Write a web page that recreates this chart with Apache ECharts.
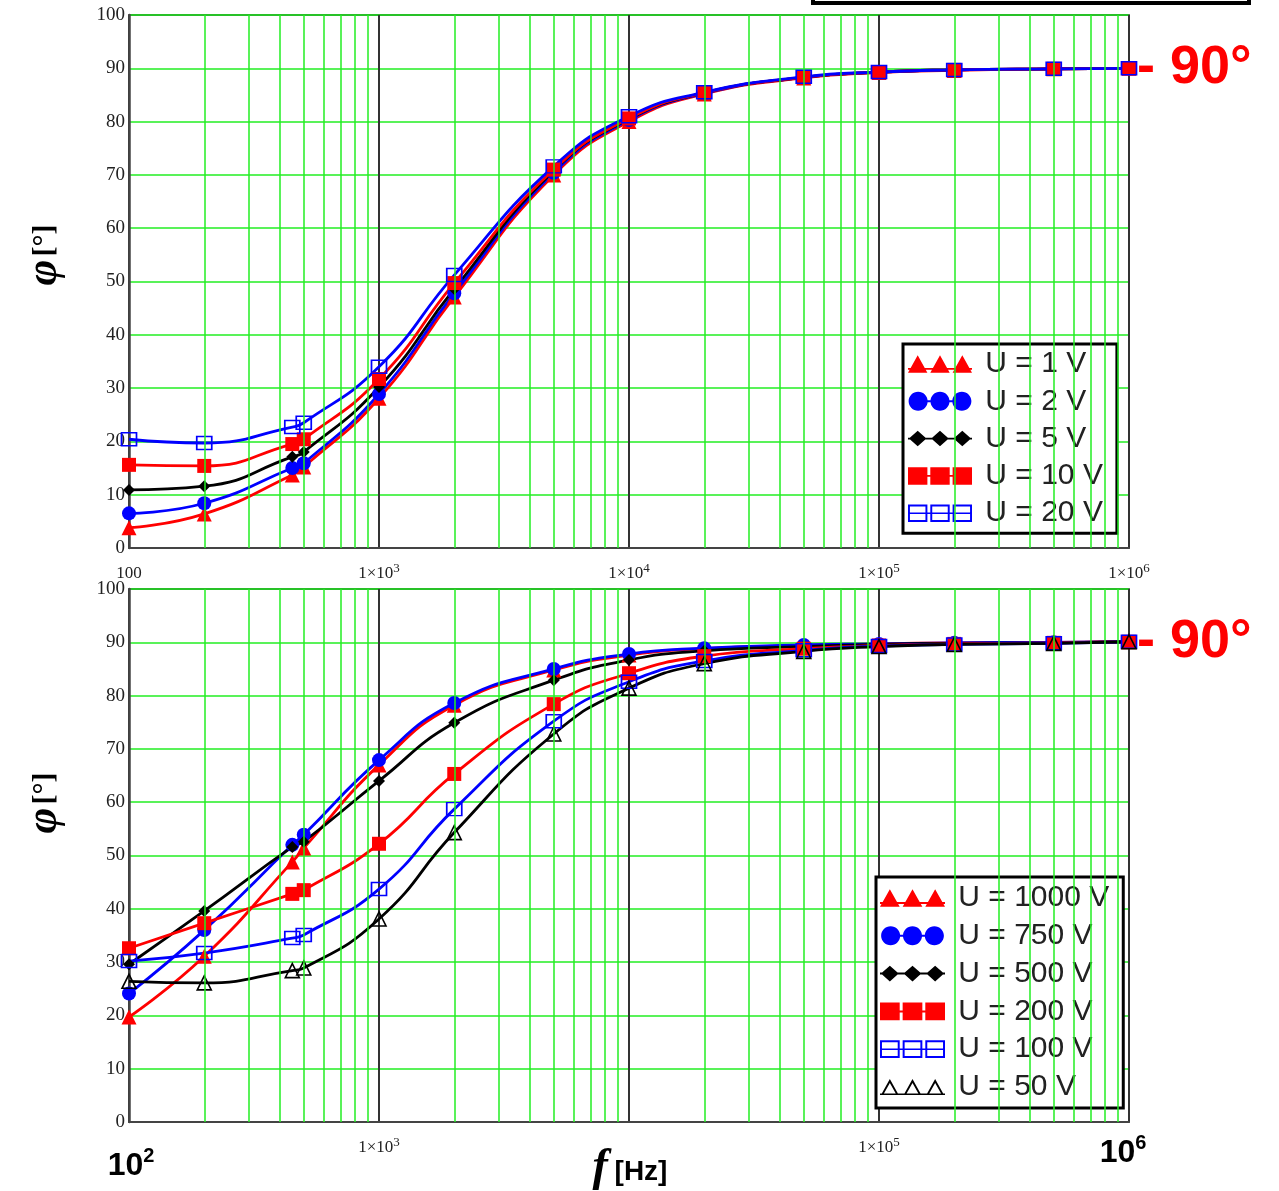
<!DOCTYPE html>
<html>
<head>
<meta charset="utf-8">
<script src="https://cdn.jsdelivr.net/npm/echarts@6/dist/echarts.min.js"></script>
<style>
  html, body { margin: 0; padding: 0; background: #fff; }
  #chart { width: 1279px; height: 1191px; }
</style>
</head>
<body>
<div id="chart"></div>
<script>
// measurement frequencies [Hz]
const freqs = [100, 200, 450, 500, 1000, 2000, 5000, 10000, 20000, 50000, 100000, 200000, 500000, 1000000]

// top panel, phase angle [deg]
const u1 = [3.8, 6.4, 13.7, 15.2, 28.1, 47.1, 70.0, 80.0, 85.2, 88.2, 89.2, 89.6, 89.9, 90.0]
const u2 = [6.5, 8.4, 15.0, 15.9, 28.9, 47.8, 70.4, 80.3, 85.3, 88.3, 89.3, 89.7, 89.9, 90.0]
const u5 = [10.9, 11.6, 17.1, 18.0, 30.2, 48.6, 70.8, 80.5, 85.4, 88.3, 89.3, 89.7, 89.9, 90.0]
const u10 = [15.6, 15.4, 19.5, 20.4, 31.7, 49.7, 71.0, 80.6, 85.4, 88.3, 89.3, 89.7, 89.9, 90.0]
const u20 = [20.4, 19.7, 22.7, 23.5, 34.0, 51.2, 71.6, 81.0, 85.5, 88.4, 89.3, 89.7, 89.9, 90.0]

// bottom panel
const u1000 = [19.7, 31.1, 48.8, 51.4, 67.0, 78.2, 84.8, 87.6, 88.8, 89.4, 89.7, 89.9, 90.0, 90.1]
const u750 = [24.1, 36.0, 52.0, 53.9, 67.9, 78.6, 85.0, 87.8, 88.9, 89.5, 89.7, 89.9, 90.0, 90.1]
const u500 = [29.6, 39.6, 51.6, 52.6, 64.0, 74.9, 82.9, 86.7, 88.4, 89.2, 89.6, 89.8, 89.9, 90.1]
const u200 = [32.6, 37.3, 42.8, 43.5, 52.2, 65.3, 78.4, 84.2, 87.4, 88.8, 89.4, 89.7, 89.9, 90.1]
const u100 = [30.2, 31.7, 34.5, 35.1, 43.7, 58.7, 75.2, 82.6, 86.5, 88.5, 89.3, 89.6, 89.8, 90.1]
const u50 = [26.4, 26.1, 28.4, 28.9, 38.1, 54.3, 72.8, 81.4, 86.0, 88.3, 89.2, 89.6, 89.8, 90.1]

// minor log grid lines (2..9 per decade)
const minorFreqs = []
for (let d = 100; d < 1e6; d *= 10) for (let k = 2; k <= 9; k++) minorFreqs.push(d * k)

const GREEN = '#22ee22'
const RED = '#ff0000'
const BLUE = '#0000ff'
const BLACK = '#000000'

// legend icon paths (66 x 20 box)
function circ(cx, cy, r) {
  const k = 0.5523 * r
  return `M${cx - r} ${cy} C${cx - r} ${cy - k} ${cx - k} ${cy - r} ${cx} ${cy - r} ` +
    `C${cx + k} ${cy - r} ${cx + r} ${cy - k} ${cx + r} ${cy} ` +
    `C${cx + r} ${cy + k} ${cx + k} ${cy + r} ${cx} ${cy + r} ` +
    `C${cx - k} ${cy + r} ${cx - r} ${cy + k} ${cx - r} ${cy} Z `
}
const centers = [10, 33, 56]
const iconTri = 'path://' + centers.map(c => `M${c - 10} 19 L${c} 1 L${c + 10} 19 Z `).join('') + 'M0 14 L66 14 L66 16 L0 16 Z'
const iconTriEmpty = 'path://' + centers.map(c => `M${c - 9} 18 L${c} 2 L${c + 9} 18 Z M${c - 6} 16.5 L${c + 6} 16.5 L${c} 6 Z `).join('') + 'M0 16.5 L66 16.5 L66 18 L0 18 Z'
const iconCircle = 'path://' + centers.map(c => circ(c, 10, 10)).join('') + 'M0 9 L66 9 L66 11 L0 11 Z'
const iconDiamond = 'path://' + centers.map(c => `M${c - 9} 10 L${c} 2 L${c + 9} 10 L${c} 18 Z `).join('') + 'M0 9 L66 9 L66 11 L0 11 Z'
const iconRect = 'path://' + centers.map(c => `M${c - 10} 1 L${c + 10} 1 L${c + 10} 19 L${c - 10} 19 Z `).join('') + 'M0 9 L66 9 L66 11 L0 11 Z'
const iconRectEmpty = 'path://' + centers.map(c => `M${c - 10} 1 L${c + 10} 1 L${c + 10} 19 L${c - 10} 19 Z M${c - 8} 3 L${c - 8} 17 L${c + 8} 17 L${c + 8} 3 Z `).join('') + 'M0 9.2 L66 9.2 L66 10.8 L0 10.8 Z'

function mkSeries(name, vals, idx, color, symbol, size, hollow) {
  return {
    name, type: 'line', xAxisIndex: idx, yAxisIndex: idx, z: 3,
    data: freqs.map((f, i) => [f, vals[i]]),
    smooth: 0.5,
    symbol, symbolSize: size, showAllSymbol: true,
    lineStyle: { color, width: 2.8 },
    itemStyle: hollow
      ? { color: 'rgba(0,0,0,0)', borderColor: color, borderWidth: 1.6 }
      : { color, borderWidth: 0 },
    emphasis: { disabled: true },
  }
}

function gridLines(idx) {
  return {
    type: 'line', xAxisIndex: idx, yAxisIndex: idx, data: [], z: 1, silent: true,
    markLine: {
      silent: true, symbol: ['none', 'none'], animation: false,
      label: { show: false },
      lineStyle: { color: GREEN, width: 1.5, type: 'solid' },
      data: minorFreqs.map(f => ({ xAxis: f })),
    },
  }
}

function ninety(idx) {
  return {
    type: 'line', xAxisIndex: idx, yAxisIndex: idx, data: [], z: 2, silent: true,
    markLine: {
      silent: true, symbol: ['none', 'none'], animation: false,
      lineStyle: { color: 'rgba(0,0,0,0)', width: 1, type: 'solid' },
      label: {
        show: true, position: 'end', distance: 8, formatter: '- 90°',
        color: RED, fontSize: 54, fontWeight: 'bold', fontFamily: 'Liberation Sans',
      },
      data: [{ yAxis: 90 }],
    },
  }
}

function xAxis(idx, formatter) {
  return {
    type: 'log', logBase: 10, min: 100, max: 1000000, gridIndex: idx,
    axisLine: { show: true, onZero: false, lineStyle: { color: '#444', width: 2 } },
    axisTick: { show: false },
    splitLine: { show: true, lineStyle: { color: '#333', width: 2 } },
    axisLabel: {
      formatter, margin: 14, showMinLabel: true, showMaxLabel: true,
      fontFamily: 'Liberation Serif', fontSize: 17, color: '#222', lineHeight: 24,
      rich: { s: { fontFamily: 'Liberation Serif', fontSize: 13, color: '#222', verticalAlign: 'top' } },
    },
  }
}

function yAxis(idx) {
  return {
    type: 'value', min: 0, max: 100, interval: 10, gridIndex: idx,
    axisLine: { show: true, lineStyle: { color: '#444', width: 2.5 } },
    axisTick: { show: false },
    splitLine: { show: true, lineStyle: { color: GREEN, width: 1.5 } },
    axisLabel: { fontFamily: 'Liberation Serif', fontSize: 19, color: '#222', margin: 4 },
  }
}

const expOf = v => Math.round(Math.log10(v))
const topFmt = v => (expOf(v) === 2 ? '100' : '1×10{s|' + expOf(v) + '}')
const botFmt = v => (expOf(v) === 3 || expOf(v) === 5 ? '1×10{s|' + expOf(v) + '}' : '')

const legendBase = {
  orient: 'vertical', selectedMode: false,
  backgroundColor: '#fff', borderColor: '#000', borderWidth: 3,
  itemWidth: 64, itemHeight: 19, formatter: ' {name}',
  textStyle: { fontFamily: 'Liberation Sans', fontSize: 30, color: '#222', lineHeight: 30 },
}
const legItem = (name, icon, color) => ({ name, icon, itemStyle: { color, borderWidth: 0 } })

const nameRich = {
  p: { fontFamily: 'Liberation Serif', fontStyle: 'italic', fontWeight: 'bold', fontSize: 44, fill: '#000' },
  b: { fontFamily: 'Liberation Serif', fontWeight: 'bold', fontSize: 30, fill: '#000' },
}
const powRich = {
  m: { fontFamily: 'Liberation Sans', fontWeight: 'bold', fontSize: 32, fill: '#000', lineHeight: 40 },
  s: { fontFamily: 'Liberation Sans', fontWeight: 'bold', fontSize: 20, fill: '#000', verticalAlign: 'top' },
}

const chart = echarts.init(document.getElementById('chart'))
chart.setOption({
  animation: false,
  backgroundColor: '#fff',
  grid: [
    { left: 129, top: 15, width: 1000, height: 533, show: true, borderColor: '#000', borderWidth: 1.5, outerBoundsMode: 'none' },
    { left: 129, top: 589, width: 1000, height: 533, show: true, borderColor: '#000', borderWidth: 1.5, outerBoundsMode: 'none' },
  ],
  xAxis: [xAxis(0, topFmt), xAxis(1, botFmt)],
  yAxis: [yAxis(0), yAxis(1)],
  legend: [
    Object.assign({}, legendBase, {
      left: 903, top: 344, itemGap: 7.3, padding: [5, 14, 5, 5],
      data: [
        legItem('U = 1 V', iconTri, RED),
        legItem('U = 2 V', iconCircle, BLUE),
        legItem('U = 5 V', iconDiamond, BLACK),
        legItem('U = 10 V', iconRect, RED),
        legItem('U = 20 V', iconRectEmpty, BLUE),
      ],
    }),
    Object.assign({}, legendBase, {
      left: 876, top: 877, itemGap: 7.8, itemWidth: 65, padding: [6, 14, 6, 4],
      data: [
        legItem('U = 1000 V', iconTri, RED),
        legItem('U = 750 V', iconCircle, BLUE),
        legItem('U = 500 V', iconDiamond, BLACK),
        legItem('U = 200 V', iconRect, RED),
        legItem('U = 100 V', iconRectEmpty, BLUE),
        legItem('U = 50 V', iconTriEmpty, BLACK),
      ],
    }),
  ],
  graphic: [
    { type: 'rect', shape: { x: 813, y: -30, width: 436, height: 33 }, style: { fill: '#fff', stroke: '#000', lineWidth: 4 } },
    { type: 'text', x: 45, y: 255, rotation: Math.PI / 2, style: { text: '{p|φ} {b|[°]}', align: 'center', verticalAlign: 'middle', rich: nameRich } },
    { type: 'text', x: 45, y: 803, rotation: Math.PI / 2, style: { text: '{p|φ} {b|[°]}', align: 'center', verticalAlign: 'middle', rich: nameRich } },
    { type: 'text', x: 131, y: 1166, style: { text: '{m|10}{s|2}', align: 'center', verticalAlign: 'middle', rich: powRich } },
    { type: 'text', x: 1123, y: 1153, style: { text: '{m|10}{s|6}', align: 'center', verticalAlign: 'middle', rich: powRich } },
    {
      type: 'text', x: 630, y: 1168,
      style: {
        text: '{i|f}  {b|[Hz]}', align: 'center', verticalAlign: 'middle',
        rich: {
          i: { fontFamily: 'Liberation Serif', fontStyle: 'italic', fontWeight: 'bold', fontSize: 46, fill: '#000' },
          b: { fontFamily: 'Liberation Sans', fontWeight: 'bold', fontSize: 28, fill: '#000', padding: [8, 0, 0, 0] },
        },
      },
    },
  ],
  series: [
    gridLines(0), gridLines(1), ninety(0), ninety(1),
    mkSeries('U = 1 V', u1, 0, RED, 'triangle', 15, false),
    mkSeries('U = 2 V', u2, 0, BLUE, 'circle', 14, false),
    mkSeries('U = 5 V', u5, 0, BLACK, 'diamond', 12, false),
    mkSeries('U = 10 V', u10, 0, RED, 'rect', 14, false),
    mkSeries('U = 20 V', u20, 0, BLUE, 'rect', [15, 13], true),
    mkSeries('U = 1000 V', u1000, 1, RED, 'triangle', 15, false),
    mkSeries('U = 750 V', u750, 1, BLUE, 'circle', 14, false),
    mkSeries('U = 500 V', u500, 1, BLACK, 'diamond', 12, false),
    mkSeries('U = 200 V', u200, 1, RED, 'rect', 14, false),
    mkSeries('U = 100 V', u100, 1, BLUE, 'rect', [15, 13], true),
    mkSeries('U = 50 V', u50, 1, BLACK, 'triangle', 14, true),
  ],
})
window.addEventListener('resize', () => chart.resize())
</script>
</body>
</html>
